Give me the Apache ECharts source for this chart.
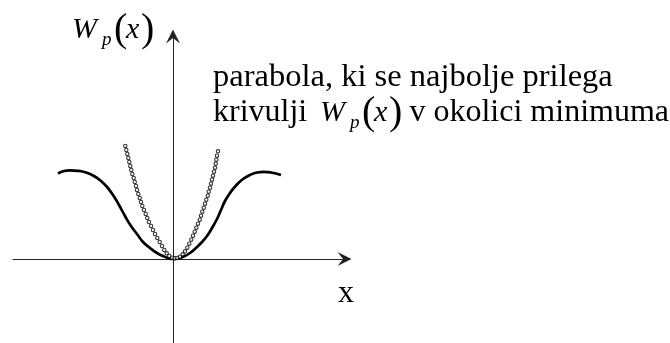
<!DOCTYPE html>
<html>
<head>
<meta charset="utf-8">
<script src="https://cdn.jsdelivr.net/npm/echarts@6/dist/echarts.min.js"></script>
<style>
  html, body { margin: 0; padding: 0; background: #fff; }
  #chart { width: 670px; height: 343px; }
</style>
</head>
<body>
<div id="chart"></div>
<script>
// Potential W_p(x): a smooth well with its minimum at x = 0
const wellX = [-11.5, -10.9, -10.3, -9.5, -8.7, -7.9, -7.2, -6.6, -6.0, -5.4, -4.8, -4.2, -3.6, -3.0,
  -2.3, -1.6, -1.0, -0.5, 0, 0.5, 1.1, 1.7, 2.3, 2.9, 3.4, 3.9, 4.4, 4.8, 5.2, 5.7, 6.3, 7.0, 7.7,
  8.4, 9.1, 9.8, 10.8];
const wellY = [8.55, 8.8, 8.87, 8.82, 8.65, 8.3, 7.8, 7.2, 6.4, 5.4, 4.3, 3.3, 2.5, 1.7,
  1.1, 0.6, 0.3, 0.1, 0, 0.05, 0.25, 0.6, 1.1, 1.7, 2.3, 3.1, 4.0, 4.9, 5.8, 6.6, 7.35, 8.0, 8.4,
  8.65, 8.72, 8.65, 8.4];

// Parabola that best fits W_p(x) around the minimum, drawn as dots
const parabolaX = [-4.77, -4.67, -4.57, -4.47, -4.37, -4.27, -4.17, -4.07, -3.93, -3.83, -3.7, -3.6,
  -3.47, -3.33, -3.2, -3.07, -2.9, -2.73, -2.57, -2.4, -2.2, -2.0, -1.8, -1.57, -1.33, -1.1, -0.87,
  -0.63, -0.37, -0.1, 0.17,
  0.43, 0.7, 0.97, 1.2, 1.43, 1.63, 1.83, 2.0, 2.17, 2.33, 2.5, 2.67, 2.8, 2.93, 3.07, 3.2, 3.33,
  3.47, 3.57, 3.7, 3.8, 3.9, 4.0, 4.1, 4.2, 4.27, 4.33, 4.4, 4.5];
const parabolaY = [11.3, 10.9, 10.5, 10.1, 9.7, 9.3, 8.9, 8.5, 8.1, 7.7, 7.3, 6.9,
  6.5, 6.1, 5.7, 5.3, 4.9, 4.5, 4.1, 3.7, 3.3, 2.9, 2.5, 2.1, 1.7, 1.3, 0.9,
  0.57, 0.3, 0.13, 0.07,
  0.1, 0.23, 0.47, 0.77, 1.13, 1.53, 1.93, 2.33, 2.73, 3.13, 3.53, 3.93, 4.33, 4.73, 5.13, 5.53, 5.93,
  6.33, 6.73, 7.13, 7.53, 7.93, 8.33, 8.73, 9.13, 9.53, 9.93, 10.33, 10.77];

// Annotation text
const captionLine1 = 'parabola, ki se najbolje prilega';
const captionLine2Start = 'krivulji';
const captionLine2End = 'v okolici minimuma';
const xAxisLabel = 'x';

const SERIF = '"Liberation Serif", "Times New Roman", serif';
const ARROW = 'path://M5,0 L10,10 L5,6 L0,10 Z';

const pairs = (xs, ys) => xs.map((x, i) => [x, ys[i]]);

// Text element placed by its alphabetic baseline (zrender draws with a middle baseline)
function txt(text, x, baseline, size, italic, align) {
  return {
    type: 'text',
    x: x,
    y: baseline - 0.32 * size,
    style: {
      text: text,
      fontFamily: SERIF,
      fontSize: size,
      fontStyle: italic ? 'italic' : 'normal',
      fill: '#000',
      align: align || 'left',
      verticalAlign: 'middle'
    }
  };
}

// W_p(x) symbol: italic W with subscript p and tall parentheses
function wpx(x0, base) {
  return [
    txt('W', x0, base, 30, true),
    txt('p', x0 + 30, base + 6, 19, true),
    txt('(', x0 + 42, base + 3, 40, false),
    txt('x', x0 + 54, base, 30, true),
    txt(')', x0 + 69, base + 3, 40, false)
  ];
}

const chart = echarts.init(document.getElementById('chart'));
chart.setOption({
  animation: false,
  backgroundColor: '#fff',
  grid: { left: 13, right: 325.5, top: 36.5, bottom: 0 },
  xAxis: {
    type: 'value', min: -16, max: 17.15,
    axisLine: { show: true, onZero: true, symbol: ['none', ARROW], symbolSize: [14, 15],
      lineStyle: { color: '#222', width: 1 } },
    axisTick: { show: false }, axisLabel: { show: false }, splitLine: { show: false }
  },
  yAxis: {
    type: 'value', min: -8.4, max: 22.25,
    axisLine: { show: true, onZero: true, symbol: ['none', ARROW], symbolSize: [14, 15],
      lineStyle: { color: '#222', width: 1 } },
    axisTick: { show: false }, axisLabel: { show: false }, splitLine: { show: false }
  },
  series: [
    {
      type: 'line',
      data: pairs(wellX, wellY),
      smooth: true,
      showSymbol: false,
      lineStyle: { color: '#000', width: 2.7 },
      z: 2
    },
    {
      type: 'scatter',
      data: pairs(parabolaX, parabolaY),
      symbol: 'circle',
      symbolSize: 3.4,
      itemStyle: { color: '#fff', borderColor: '#000', borderWidth: 1.1 },
      z: 3
    }
  ],
  graphic: [].concat(
    wpx(72, 40),
    [txt(captionLine1, 213, 88, 32.5, false)],
    [txt(captionLine2Start, 213, 123, 32, false)],
    wpx(320, 123),
    [txt(captionLine2End, 669, 123, 32, false, 'right')],
    [txt(xAxisLabel, 338, 304, 32, false)]
  )
});
</script>
</body>
</html>
